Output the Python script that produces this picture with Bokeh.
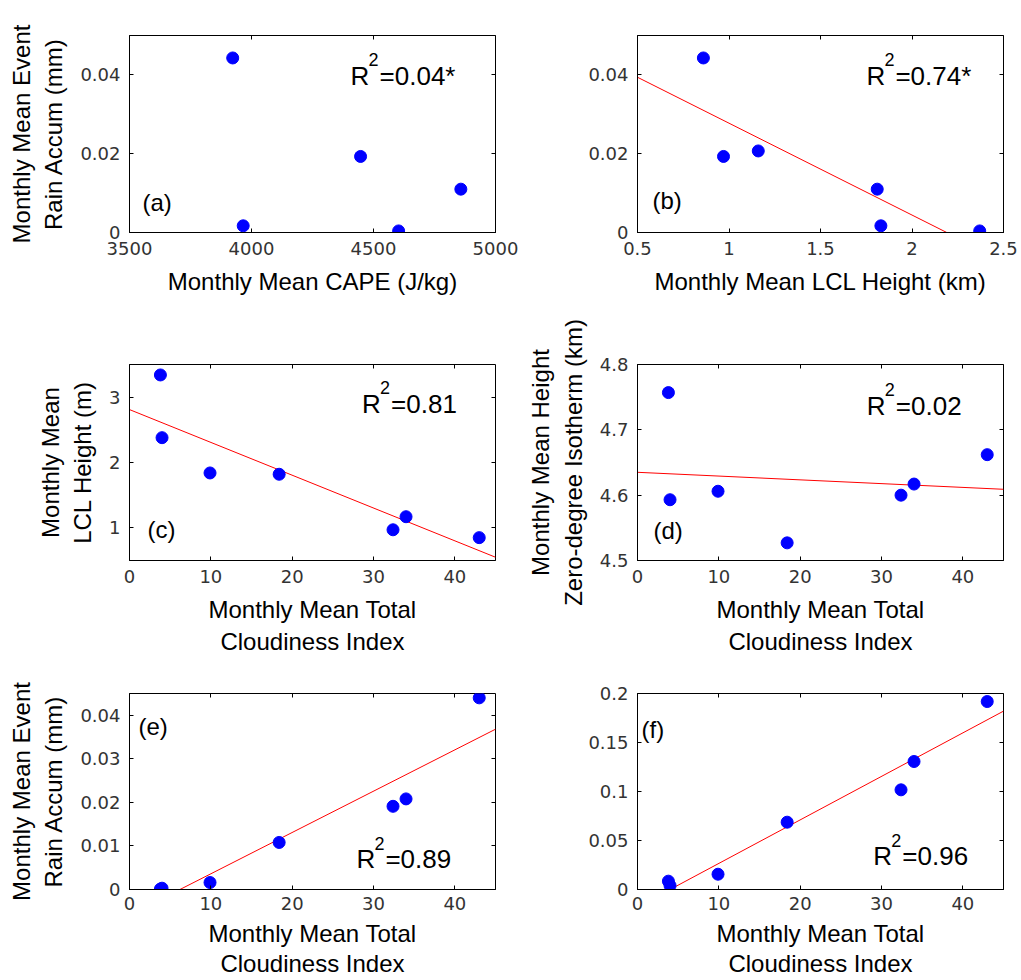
from bokeh.plotting import figure
from bokeh.models import Range1d, LinearAxis, FixedTicker, CustomJSTickFormatter, Label
from bokeh.layouts import gridplot
from bokeh.embed import file_html
from bokeh.resources import INLINE

# ---------------- data ----------------
# (a) rain vs CAPE
cape = [3923, 3966, 4447, 4603, 4858]
rain_a = [0.0443, 0.0017, 0.0193, 0.0004, 0.0110]
# (b) rain vs LCL height
lcl_km = [0.86, 0.97, 1.16, 1.81, 1.83, 2.37]
rain_b = [0.0443, 0.0193, 0.0207, 0.0110, 0.0017, 0.0004]
fit_b_x = [0.5, 2.19]
fit_b_y = [0.0394, 0.0]
# (c)-(f) against cloudiness index
cloud = [3.8, 4.0, 9.9, 18.4, 32.4, 34.0, 43.0]
lcl_c = [3.34, 2.38, 1.84, 1.82, 0.97, 1.17, 0.85]
fit_c_x = [0, 45]
fit_c_y = [2.81, 0.55]
zdeg_d = [4.757, 4.593, 4.606, 4.527, 4.600, 4.617, 4.662]
fit_d_x = [0, 45]
fit_d_y = [4.635, 4.609]
rain_e = [0.0001, 0.0003, 0.0016, 0.0108, 0.0191, 0.0208, 0.0440]
fit_e_x = [6.2, 45]
fit_e_y = [0.0, 0.0368]
vals_f = [0.0085, 0.0040, 0.0156, 0.0687, 0.1017, 0.1306, 0.1918]
fit_f_x = [4.0, 45]
fit_f_y = [0.0, 0.182]

# tick values
xt_a = [3500, 4000, 4500, 5000]
yt_a = [0, 0.02, 0.04]
xt_b = [0.5, 1, 1.5, 2, 2.5]
yt_b = [0, 0.02, 0.04]
xt_cloud = [0, 10, 20, 30, 40]
yt_c = [1, 2, 3]
yt_d = [4.5, 4.6, 4.7, 4.8]
yt_e = [0, 0.01, 0.02, 0.03, 0.04]
yt_f = [0, 0.05, 0.1, 0.15, 0.2]

# text (R^2 values shown as "R" + superscript "2" + rest)
r2_rest = ["=0.04*", "=0.74*", "=0.81", "=0.02", "=0.89", "=0.96"]
panel_tags = ["(a)", "(b)", "(c)", "(d)", "(e)", "(f)"]

FONT = "Liberation Sans"
TICK_FONT = "DejaVu Sans"
BLUE = "#0000FF"
RED = "#FF0000"

fmt = CustomJSTickFormatter(code="return tick.toString();")
blank = CustomJSTickFormatter(code="return '';")


def panel(width, height, bl, br, bt, bb, xr, yr, xticks, yticks, xlabel, ylabel,
          lab_standoff=9, axlab_standoff=10, line_h=1.2):
    p = figure(width=width, height=height, x_range=Range1d(*xr), y_range=Range1d(*yr),
               output_backend="svg", toolbar_location=None, tools="",
               min_border_left=bl, min_border_right=br, min_border_top=bt,
               min_border_bottom=bb)
    p.xgrid.visible = False
    p.ygrid.visible = False
    p.outline_line_color = "black"
    p.outline_line_width = 1
    p.background_fill_color = "white"
    p.border_fill_color = "white"
    for ax, ticks, lab, is_x in ((p.xaxis[0], xticks, xlabel, True),
                                 (p.yaxis[0], yticks, ylabel, False)):
        ax.ticker = FixedTicker(ticks=ticks)
        ax.formatter = fmt
        ax.major_tick_in = 4
        ax.major_tick_out = 0
        ax.minor_tick_line_color = None
        ax.axis_line_color = "black"
        ax.major_tick_line_color = "black"
        ax.major_label_text_font = TICK_FONT
        ax.major_label_text_font_size = "18px"
        ax.major_label_text_color = "#333333"
        ax.major_label_standoff = lab_standoff if is_x else 9
        ax.axis_label = lab
        ax.axis_label_text_font = FONT
        ax.axis_label_text_font_size = "24px"
        ax.axis_label_text_font_style = "normal"
        ax.axis_label_text_color = "black"
        ax.axis_label_standoff = axlab_standoff if is_x else 10
        ax.axis_label_text_line_height = line_h if is_x else 1.2
    for loc, ticks in (("above", xticks), ("right", yticks)):
        ax = LinearAxis(ticker=FixedTicker(ticks=ticks), formatter=blank,
                        major_tick_in=4, major_tick_out=0, minor_tick_line_color=None,
                        axis_line_color=None, major_tick_line_color="black",
                        major_label_standoff=0)
        p.add_layout(ax, loc)
    return p


def texts(p, i, r2x, r2y, tx, ty):
    p.add_layout(Label(x=r2x, y=r2y, text="R", text_font=FONT,
                       text_font_size="26px", text_baseline="alphabetic",
                       text_align="left", text_color="black"))
    p.add_layout(Label(x=r2x, y=r2y, x_offset=18, y_offset=16, text="2", text_font=FONT,
                       text_font_size="18px", text_baseline="alphabetic",
                       text_align="left", text_color="black"))
    p.add_layout(Label(x=r2x, y=r2y, x_offset=29, text=r2_rest[i], text_font=FONT,
                       text_font_size="26px", text_baseline="alphabetic",
                       text_align="left", text_color="black"))
    p.add_layout(Label(x=tx, y=ty, text=panel_tags[i], text_font=FONT,
                       text_font_size="24px", text_baseline="alphabetic",
                       text_align="left", text_color="black"))


LW, RW = 520, 501
H1, H2, H3 = 306, 354, 320
CLOUD_LBL = "Monthly Mean Total\nCloudiness Index"
RAIN_LBL = "Monthly Mean Event\nRain Accum (mm)"

# Row 1
pa = panel(LW, H1, 129, 25, 35, H1 - 232, (3500, 5000), (0, 0.05), xt_a, yt_a,
           "Monthly Mean CAPE (J/kg)", RAIN_LBL)
pa.scatter(cape, rain_a, size=12, color=BLUE)
texts(pa, 0, 4406, 0.0398, 3553, 0.0076)

pb = panel(RW, H1, 117, 18, 35, H1 - 232, (0.5, 2.5), (0, 0.05), xt_b, yt_b,
           "Monthly Mean LCL Height (km)", "")
pb.line(fit_b_x, fit_b_y, color=RED, line_width=1)
pb.scatter(lcl_km, rain_b, size=12, color=BLUE)
texts(pb, 1, 1.751, 0.0398, 0.582, 0.0081)

# Row 2 (starts at y=306, frame top 364)
t2 = 364 - H1
pc = panel(LW, H2, 129, 25, t2, H2 - t2 - 196, (0, 45), (0.5, 3.5), xt_cloud, yt_c,
           CLOUD_LBL, "Monthly Mean\nLCL Height (m)")
pc.line(fit_c_x, fit_c_y, color=RED, line_width=1)
pc.scatter(cloud, lcl_c, size=12, color=BLUE)
texts(pc, 2, 28.6, 2.90, 2.2, 0.97)

pd_ = panel(RW, H2, 117, 18, t2, H2 - t2 - 196, (0, 45), (4.5, 4.8), xt_cloud, yt_d,
            CLOUD_LBL, "Monthly Mean Height\nZero-degree Isotherm (km)")
pd_.line(fit_d_x, fit_d_y, color=RED, line_width=1)
pd_.scatter(cloud, zdeg_d, size=12, color=BLUE)
texts(pd_, 3, 28.2, 4.737, 1.97, 4.546)

# Row 3 (starts at y=660, frame top 693)
t3 = 693 - H1 - H2
pe = panel(LW, H3, 129, 25, t3, H3 - t3 - 196, (0, 45), (0, 0.045), xt_cloud, yt_e,
           CLOUD_LBL, RAIN_LBL, lab_standoff=7, axlab_standoff=7, line_h=1.12)
pe.line(fit_e_x, fit_e_y, color=RED, line_width=1)
pe.scatter(cloud, rain_e, size=12, color=BLUE)
texts(pe, 4, 27.9, 0.0069, 1.1, 0.0374)

pf = panel(RW, H3, 117, 18, t3, H3 - t3 - 196, (0, 45), (0, 0.2), xt_cloud, yt_f,
           CLOUD_LBL, "", lab_standoff=7, axlab_standoff=7, line_h=1.12)
pf.line(fit_f_x, fit_f_y, color=RED, line_width=1)
pf.scatter(cloud, vals_f, size=12, color=BLUE)
texts(pf, 5, 29.0, 0.0337, 0.5, 0.163)

grid = gridplot([[pa, pb], [pc, pd_], [pe, pf]], toolbar_location=None)

with open("out.html", "w") as f:
    f.write(file_html(grid, INLINE))
